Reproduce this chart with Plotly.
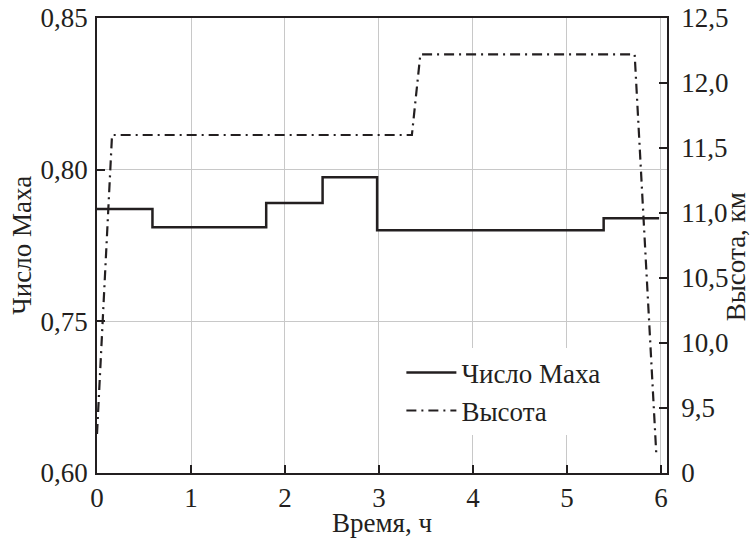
import plotly.graph_objects as go

# Mach number: step breakpoints (h) and values
mach_t = [0.0, 0.59, 1.80, 2.40, 2.98, 5.39, 5.98]
mach_v = [0.787, 0.781, 0.789, 0.7975, 0.780, 0.784, 0.784]

# Altitude (km)
alt_t = [0.0, 0.16, 3.35, 3.44, 5.72, 5.95]
alt_v = [9.3, 11.6, 11.6, 12.22, 12.22, 9.15]

x_ticks = [0, 1, 2, 3, 4, 5, 6]
left_vals = [0.70, 0.75, 0.80, 0.85]
left_text = ["0,60", "0,75", "0,80", "0,85"]
right_vals = [9.0, 9.5, 10.0, 10.5, 11.0, 11.5, 12.0, 12.5]
right_text = ["0", "9,5", "10,0", "10,5", "11,0", "11,5", "12,0", "12,5"]

x_title = "Время, ч"
y_title = "Число Маха"
y2_title = "Высота, км"

INK = "#231f20"
GRID = "#c8c8c8"
FONT = "Liberation Serif"
FS = 27

fig = go.Figure()
fig.add_trace(go.Scatter(x=mach_t, y=mach_v, mode="lines", name="Число Маха",
                         line=dict(color=INK, width=2.5, shape="hv"), yaxis="y"))
fig.add_trace(go.Scatter(x=alt_t, y=alt_v, mode="lines", name="Высота",
                         line=dict(color=INK, width=2.2, dash="10px,5px,2px,5px"), yaxis="y2"))

tfont = dict(size=FS, family=FONT, color=INK)

fig.update_layout(
    width=752, height=540,
    margin=dict(l=97, r=85, t=18, b=67, autoexpand=False),
    paper_bgcolor="white", plot_bgcolor="white",
    font=dict(family=FONT, size=FS, color=INK),
    showlegend=True,
    legend=dict(x=0.534, y=0.274, xanchor="left", yanchor="top",
                bgcolor="white", borderwidth=0, itemwidth=50,
                font=tfont, tracegroupgap=0),
    xaxis=dict(range=[0, 6.064], tickvals=x_ticks, ticktext=[str(v) for v in x_ticks],
               automargin=False, ticklabeloverflow="allow",
               ticks="inside", ticklen=8, tickwidth=1.5, tickcolor=INK,
               showline=True, linecolor=INK, linewidth=1.5, mirror=True,
               showgrid=True, gridcolor=GRID, gridwidth=1, zeroline=False,
               ticklabelstandoff=0),
    yaxis=dict(range=[0.70, 0.85], tickvals=left_vals, ticktext=left_text,
               automargin=False, ticklabeloverflow="allow",
               ticks="inside", ticklen=8, tickwidth=1.5, tickcolor=INK,
               showline=True, linecolor=INK, linewidth=1.5,
               showgrid=True, gridcolor=GRID, gridwidth=1, zeroline=False,
               ticklabelstandoff=2),
    yaxis2=dict(range=[9.0, 12.5], tickvals=right_vals, ticktext=right_text,
                automargin=False, ticklabeloverflow="allow",
                overlaying="y", side="right",
                ticks="inside", ticklen=8, tickwidth=1.5, tickcolor=INK,
                showline=True, linecolor=INK, linewidth=1.5,
                showgrid=False, zeroline=False,
                ticklabelstandoff=7),
    annotations=[
        dict(text=x_title, xref="paper", yref="paper", x=0.5, y=-0.109,
             xanchor="center", yanchor="middle", showarrow=False, font=tfont),
        dict(text=y_title, xref="paper", yref="paper", x=-0.133, y=0.5, textangle=-90,
             xanchor="center", yanchor="middle", showarrow=False, font=tfont),
        dict(text=y2_title, xref="paper", yref="paper", x=1.12, y=0.475, textangle=-90,
             xanchor="center", yanchor="middle", showarrow=False, font=tfont),
    ],
)

# remove the browser's default 8px body margin so the figure fills the window
fig.write_html("out.html", config={"displayModeBar": False},
               post_script="document.body.style.margin='0';")
